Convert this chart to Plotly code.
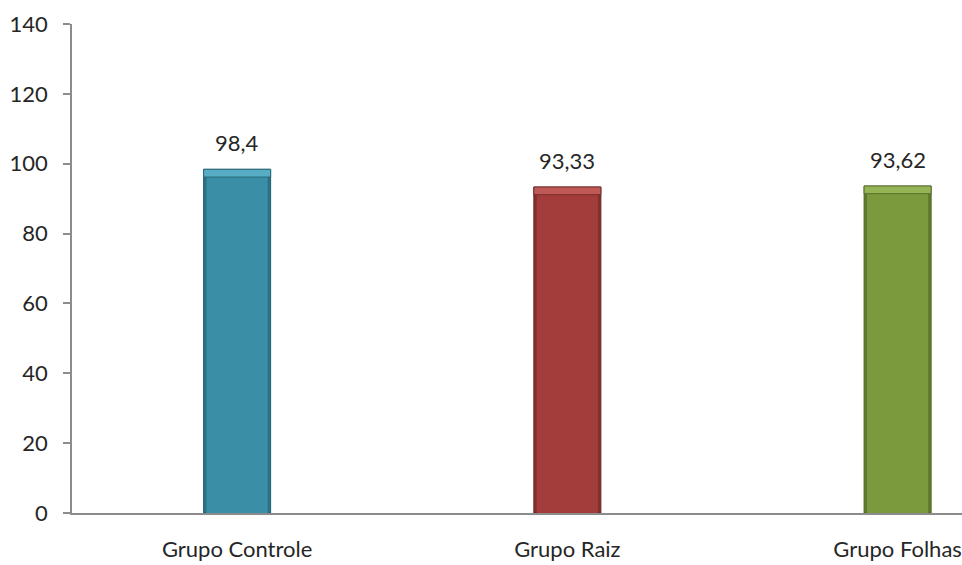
import plotly.graph_objects as go

# Data
categories = ["Grupo Controle", "Grupo Raiz", "Grupo Folhas"]
values = [98.4, 93.33, 93.62]
bar_colors = ["#3A8EA6", "#A23D3B", "#7B9A3D"]
side_colors = ["#2C7286", "#832F2E", "#5F7A2C"]
edge_colors = ["#255F6F", "#6B2524", "#4F6526"]
cap_colors = ["#56ADC4", "#BE5956", "#94B455"]
y_ticks = [0, 20, 40, 60, 80, 100, 120, 140]

FONT = "Lato, Calibri, sans-serif"
BAR_W = 0.203
INNER_W = 0.185
CAP_H = 2.2
TXT = "#262626"

fig = go.Figure()

# Outer bars: darker shade shows as bevelled sides
fig.add_trace(go.Bar(
    x=categories, y=values, width=BAR_W,
    marker=dict(color=side_colors, line=dict(color=edge_colors, width=1)),
    hoverinfo="skip", showlegend=False,
))

# Inner face of each bar
fig.add_trace(go.Bar(
    x=categories, y=[v - CAP_H for v in values], width=INNER_W,
    marker=dict(color=bar_colors, line=dict(width=0)),
    hoverinfo="skip", showlegend=False,
))

# Lighter bevel cap along the top
fig.add_trace(go.Bar(
    x=categories, y=[CAP_H] * len(values), base=[v - CAP_H for v in values],
    width=BAR_W,
    marker=dict(color=cap_colors, line=dict(color=edge_colors, width=0.8)),
    hoverinfo="skip", showlegend=False,
))

# Value labels with comma decimal separator
for c, v in zip(categories, values):
    fig.add_annotation(
        x=c, y=v, text=f"{v:g}".replace(".", ","),
        showarrow=False, yanchor="bottom", yshift=11,
        font=dict(family=FONT, size=22, color=TXT),
    )

fig.update_layout(
    width=962, height=565,
    margin=dict(l=72, r=0, t=24, b=52),
    paper_bgcolor="white", plot_bgcolor="white",
    barmode="overlay",
    font=dict(family=FONT, size=22, color=TXT),
)

fig.update_xaxes(
    range=[-0.5, 2.195],
    showgrid=False, zeroline=False,
    showline=True, linecolor="#8C8C8C", linewidth=1.5,
    ticks="", ticklabelstandoff=16,
    tickfont=dict(family=FONT, size=22, color=TXT),
)
fig.update_yaxes(
    range=[0, 140], tickvals=y_ticks,
    showgrid=False, zeroline=False,
    showline=True, linecolor="#8C8C8C", linewidth=1.5,
    ticks="outside", ticklen=7, tickcolor="#8C8C8C", tickwidth=1.5,
    ticklabelstandoff=11,
    tickfont=dict(family=FONT, size=22, color=TXT),
)

fig.write_html("out.html")
